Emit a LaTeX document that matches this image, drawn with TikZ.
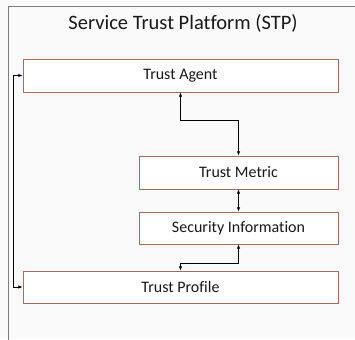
\documentclass[tikz,border=0pt]{standalone}
\usepackage{fontspec}
\setmainfont{Carlito}[Ligatures=NoCommon]
\usetikzlibrary{arrows.meta}
\definecolor{boxline}{RGB}{160,110,95}
\definecolor{frameline}{RGB}{125,125,125}
\definecolor{paper}{RGB}{251,250,250}
\definecolor{ink}{RGB}{25,25,25}
\begin{document}
\begin{tikzpicture}[x=1pt, y=-1pt, thin, >={Latex[length=4.5pt,width=3.5pt]},
  main node/.style={rectangle,draw=boxline,fill=white,text=ink,inner sep=0pt,font=\fontsize{16}{19}\selectfont},
  link/.style={<->,draw=black,line width=0.8pt}]
\useasboundingbox (0,0) rectangle (355,339);
\fill[paper] (0,0) rectangle (355,339);
\begin{scope}
\clip (0,0) rectangle (355,339);
\draw[frameline, line width=0.8pt] (8,360) -- (8,6) -- (370,6);
\end{scope}
\node[text=ink] (title) at (183,23) {\fontsize{20.5}{24}\selectfont Service Trust Platform (STP)};
\begin{scope}
\node[main node, minimum width=315pt, minimum height=33pt] (agent) at (180.5,75.5) {Trust Agent};
\node[main node, minimum width=199pt, minimum height=33pt] (metric) at (238.5,172.5) {Trust Metric};
\node[main node, minimum width=199pt, minimum height=32pt] (info) at (238.5,228) {Security Information};
\node[main node, minimum width=315pt, minimum height=32pt] (profile) at (180.5,287) {Trust Profile};
\end{scope}
\begin{scope}
\draw[link] (agent.south) -- ++(0,28) -| (metric.north);
\draw[link] (metric.south) -- (info.north);
\draw[link] (info.south) -- ++(0,19) -| (profile.north);
\draw[link] (agent.west) -- ++(-9,0) |- (profile.west);
\end{scope}
\end{tikzpicture}
\end{document}
